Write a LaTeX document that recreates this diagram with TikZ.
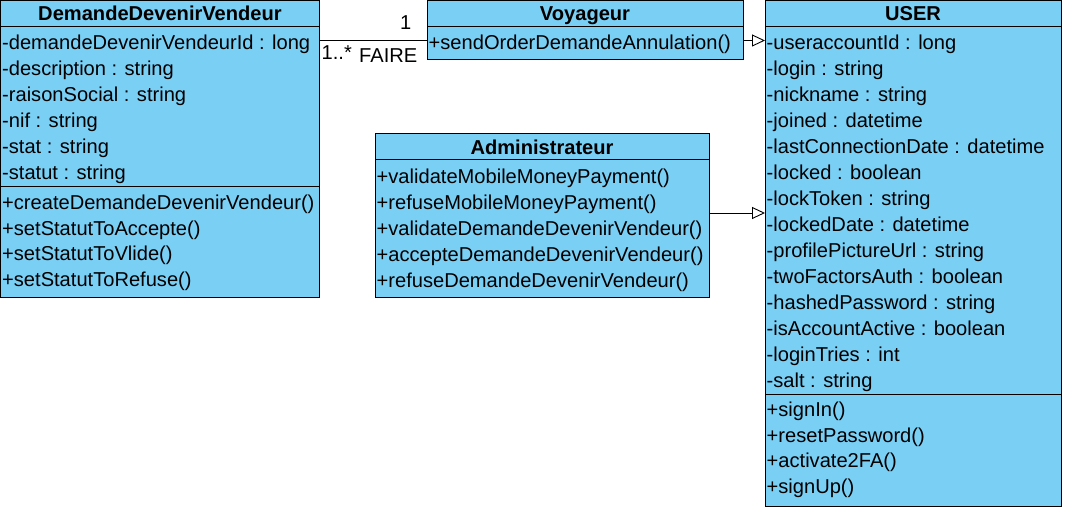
\documentclass[tikz,border=0pt]{standalone}
\usepackage{fontspec}
\setmainfont{Liberation Sans}
\usetikzlibrary{arrows.meta,fit}
\definecolor{clsblue}{RGB}{122,207,245}
\tikzset{
  cls/.style={draw=black, fill=clsblue, line width=1pt, inner sep=0pt, outer sep=0pt},
  sep/.style={draw=black, line width=1pt},
  txt/.style={anchor=base west, inner sep=0pt, font=\fontsize{20.1pt}{24pt}\selectfont},
  ttl/.style={anchor=base, inner sep=0pt, font=\fontsize{20.1pt}{24pt}\selectfont\bfseries},
  lbl/.style={anchor=base west, inner sep=0pt, font=\fontsize{20.1pt}{24pt}\selectfont},
  assoc/.style={draw=black, line width=0.9pt},
  gen/.style={draw=black, line width=0.9pt, -{Triangle[open, length=13pt, width=12pt, line width=0.9pt]}}
}
\begin{document}
\begin{tikzpicture}[x=1pt,y=-1pt]
\useasboundingbox (0,0) rectangle (1065,510);
% boxes
\node[cls, fit={(0.5,1) (319,298)}] (ddv) {};
\node[cls, fit={(427,1) (743,60)}] (voy) {};
\node[cls, fit={(375,134) (709,298)}] (admin) {};
\node[cls, fit={(765,1) (1061.5,506)}] (user) {};
% separators
\draw[sep] (0.5,26.5) -- (319,26.5);
\draw[sep] (0.5,186.5) -- (319,186.5);
\draw[sep] (427,26.5) -- (743,26.5);
\draw[sep] (375,159.5) -- (709,159.5);
\draw[sep] (765,26.5) -- (1061.5,26.5);
\draw[sep] (765,394.5) -- (1061.5,394.5);
% titles
\node[ttl] (ddvT) at (160,21) {DemandeDevenirVendeur};
\node[ttl] (voyT) at (585,21) {Voyageur};
\node[ttl] (adminT) at (542,154.5) {Administrateur};
\node[ttl] (userT) at (913,21) {USER};
% DDV attributes
\foreach \t [count=\i from 0] in {-demandeDevenirVendeurId : long,-description : string,-raisonSocial : string,-nif : string,-stat : string,-statut : string}
  \node[txt, name=ddvA\i] at (2,49.5+26*\i) {\t};
\foreach \t [count=\i from 0] in {+createDemandeDevenirVendeur(),+setStatutToAccepte(),+setStatutToVlide(),+setStatutToRefuse()}
  \node[txt, name=ddvM\i] at (2,210+25.5*\i) {\t};
% Voyageur
\node[txt] (voyM0) at (428.5,49.5) {+sendOrderDemandeAnnulation()};
% Administrateur
\foreach \t [count=\i from 0] in {+validateMobileMoneyPayment(),+refuseMobileMoneyPayment(),+validateDemandeDevenirVendeur(),+accepteDemandeDevenirVendeur(),+refuseDemandeDevenirVendeur()}
  \node[txt, name=adminM\i] at (376.5,183.5+26*\i) {\t};
% USER
\foreach \t [count=\i from 0] in {-useraccountId : long,-login : string,-nickname : string,-joined : datetime,-lastConnectionDate : datetime,-locked : boolean,-lockToken : string,-lockedDate : datetime,-profilePictureUrl : string,-twoFactorsAuth : boolean,-hashedPassword : string,-isAccountActive : boolean,-loginTries : int,-salt : string}
  \node[txt, name=userA\i] at (766.5,49.5+26*\i) {\t};
\foreach \t [count=\i from 0] in {+signIn(),+resetPassword(),+activate2FA(),+signUp()}
  \node[txt, name=userM\i] at (766.5,416.5+25.5*\i) {\t};
% connectors
\draw[assoc] ([yshift=-10pt]voy.west) -- ([yshift=-10pt]voy.west -| ddv.east);
\draw[gen] ([yshift=-10pt]voy.east) -- ([yshift=-10pt]voy.east -| user.west);
\draw[gen] ([yshift=3pt]admin.east) -- ([yshift=3pt]admin.east -| user.west);
% association labels
\node[lbl] (mOne) at (400,30) {1};
\node[lbl] (mMany) at (321.5,60) {1..*};
\node[lbl] (fLbl) at (359,63) {FAIRE};
\end{tikzpicture}
\end{document}
